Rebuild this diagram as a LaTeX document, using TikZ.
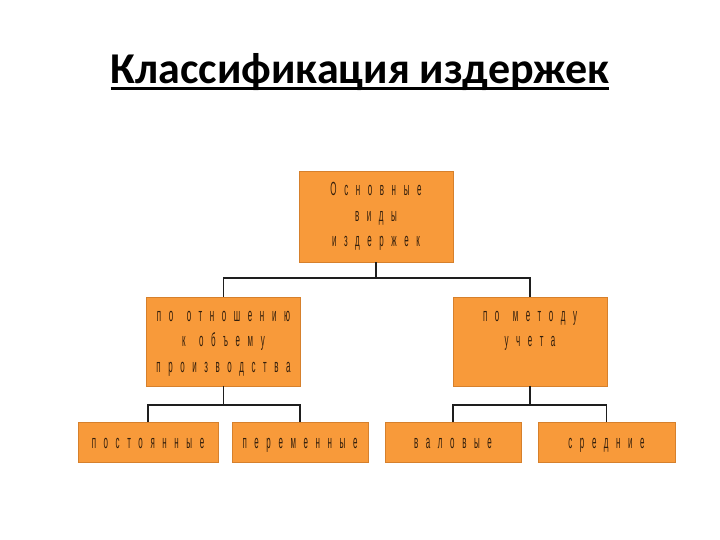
\documentclass[tikz,border=0pt]{standalone}
\usepackage{fontspec}
\setmainfont{Liberation Sans}
\newfontfamily\titlefont{Carlito}
\newfontfamily\boxfont[FakeStretch=0.42,LetterSpace=40]{Liberation Sans}
\newcommand{\boxtype}{\boxfont\fontsize{19}{25.5}\selectfont}
\newcommand{\gap}{\hspace{13.5pt}}
\usepackage{tikz}
\usetikzlibrary{calc}
\definecolor{boxorange}{RGB}{248,154,58}
\definecolor{boxedge}{RGB}{214,128,44}
\definecolor{boxtext}{RGB}{50,30,12}
\definecolor{linkgray}{RGB}{30,30,30}

\begin{document}
\begin{tikzpicture}[x=1pt,y=-1pt,every node/.style={inner sep=0pt},
 costbox/.style={draw=boxedge,fill=boxorange,line width=0.9pt,text=boxtext,
  font=\boxtype,align=center,inner xsep=3pt,inner ysep=4pt},
 upperbox/.style={costbox,text width=148pt,text height=20pt,text depth=61pt},
 leafbox/.style={costbox,minimum height=40pt,text height=14pt,text depth=2pt},
 link/.style={linkgray,line width=1.3pt}]
\fill[white] (0,0) rectangle (720,540);
\useasboundingbox (0,0) rectangle (720,540);
\node[anchor=base,font=\titlefont\bfseries\fontsize{44}{50}\selectfont] (title) at (360,84) {Классификация издержек};
\draw[line width=2.6pt] ([yshift=-4.5pt]title.base west) -- ([yshift=-4.5pt]title.base east);
\node[upperbox,text height=21pt,text depth=62pt] (kinds) at (376,216.5) {Основные\\виды\\издержек};
\node[upperbox] (volume) at (223.5,341.5) {по\gap отношению\\к\gap объему\\производства};
\node[upperbox] (method) at (530,341.5) {по\gap методу\\учета};
\foreach \name/\x/\w/\lab in {fixed/148/140/постоянные,variable/300/136/переменные,
 gross/453/136/валовые,average/606.5/137/средние} {
 \node[leafbox,minimum width=\w pt] (\name) at (\x,442) {\lab};
}
\coordinate (split) at (376,278);
\coordinate (splitvol) at (223.5,405);
\coordinate (splitmeth) at (530,405);
\draw[link] (kinds.south) -- (split);
\draw[link] (volume.south) -- (splitvol);
\draw[link] (method.south) -- (splitmeth);
\foreach \from/\to in {split/volume,split/method,splitvol/fixed,splitvol/variable,
 splitmeth/gross,splitmeth/average} {
 \draw[link] (\from) -| (\to.north);
}
\end{tikzpicture}
\end{document}
